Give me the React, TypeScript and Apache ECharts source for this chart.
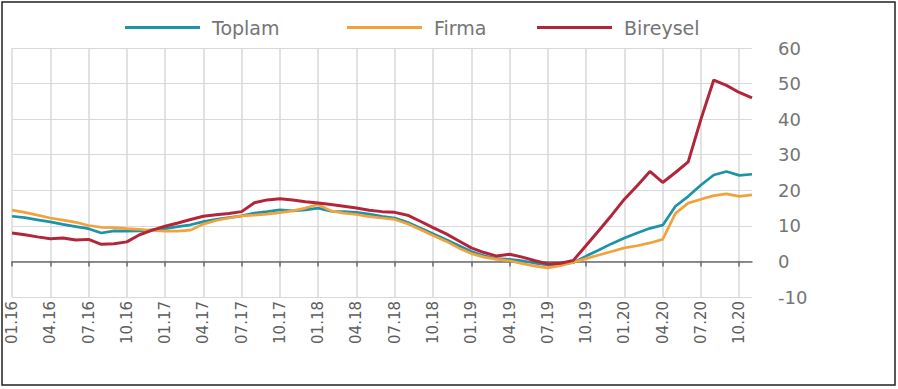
import React, { useEffect, useRef } from "react";
import * as echarts from "echarts";

// Monthly observations, 01.16 – 11.20
const months = [
  "01.16", "02.16", "03.16", "04.16", "05.16", "06.16", "07.16", "08.16", "09.16", "10.16", "11.16", "12.16",
  "01.17", "02.17", "03.17", "04.17", "05.17", "06.17", "07.17", "08.17", "09.17", "10.17", "11.17", "12.17",
  "01.18", "02.18", "03.18", "04.18", "05.18", "06.18", "07.18", "08.18", "09.18", "10.18", "11.18", "12.18",
  "01.19", "02.19", "03.19", "04.19", "05.19", "06.19", "07.19", "08.19", "09.19", "10.19", "11.19", "12.19",
  "01.20", "02.20", "03.20", "04.20", "05.20", "06.20", "07.20", "08.20", "09.20", "10.20", "11.20",
];

const toplam = [
  12.7, 12.3, 11.7, 11.1, 10.4, 9.8, 9.2, 8.0, 8.6, 8.5, 8.6, 8.9,
  9.2, 9.8, 10.3, 11.2, 11.8, 12.3, 12.8, 13.6, 14.0, 14.5, 14.2, 14.5,
  15.0, 14.1, 14.0, 13.8, 13.3, 12.7, 12.2, 11.0, 9.4, 7.8, 6.2, 4.5,
  2.8, 1.6, 0.8, 0.6, 0.2, -0.5, -1.0, -0.9, -0.3, 1.5, 3.2, 5.0,
  6.6, 8.0, 9.3, 10.2, 15.5, 18.3, 21.5, 24.3, 25.3, 24.2, 24.5,
];

const firma = [
  14.4, 13.8, 13.0, 12.2, 11.6, 11.0, 10.1, 9.6, 9.5, 9.2, 9.0, 8.7,
  8.5, 8.5, 8.8, 10.5, 11.5, 12.2, 12.8, 13.0, 13.3, 13.7, 14.2, 15.0,
  16.0, 14.2, 13.6, 13.2, 12.6, 12.2, 11.8, 10.6, 9.0, 7.3, 5.7, 3.8,
  2.2, 1.2, 0.6, 0.2, -0.6, -1.3, -1.8, -1.2, -0.2, 0.8, 1.8, 2.8,
  3.8, 4.4, 5.2, 6.2, 13.5, 16.4, 17.5, 18.5, 19.0, 18.3, 18.7,
];

const bireysel = [
  8.0, 7.5, 6.9, 6.4, 6.6, 6.0, 6.2, 4.8, 5.0, 5.5, 7.5, 8.8,
  9.9, 10.8, 11.8, 12.7, 13.1, 13.5, 14.0, 16.5, 17.3, 17.6, 17.3, 16.8,
  16.4, 16.0, 15.5, 15.0, 14.4, 14.0, 13.8, 13.0, 11.3, 9.5, 7.8, 5.8,
  3.8, 2.5, 1.5, 2.0, 1.2, 0.2, -0.7, -0.5, 0.3, 4.5, 8.7, 13.0,
  17.5, 21.3, 25.3, 22.2, 25.0, 28.0, 40.0, 51.0, 49.5, 47.5, 46.0,
];

const seriesNames = ["Toplam", "Firma", "Bireysel"];
const seriesColors = ["#1d93a8", "#f0a33c", "#b3253a"];
const legendLeft = [120, 342, 532];

const FONT = "DejaVu Sans, Verdana, sans-serif";
const GRID_COLOR = "#d9d9d9";
const AXIS_COLOR = "#6b6b6b";

export default function App() {
  const ref = useRef<HTMLDivElement>(null);

  useEffect(() => {
    if (!ref.current) return;
    const chart = echarts.init(ref.current, undefined, { renderer: "svg" });
    const values = [toplam, firma, bireysel];

    chart.setOption({
      animation: false,
      backgroundColor: "#ffffff",
      textStyle: { fontFamily: FONT },
      grid: { left: 12, right: 146, top: 48, bottom: 92, containLabel: false },
      legend: seriesNames.map((name, i) => ({
        data: [name],
        left: legendLeft[i],
        top: 13,
        icon: "rect",
        itemWidth: 75,
        itemHeight: 3,
        selectedMode: false,
        textStyle: {
          fontFamily: FONT,
          fontSize: 19,
          color: "#757575",
          padding: [0, 0, 0, 7],
        },
      })),
      xAxis: [
        {
          type: "category",
          data: months,
          boundaryGap: false,
          position: "bottom",
          axisLine: { show: false, onZero: false },
          axisTick: { show: false },
          axisLabel: {
            interval: 2,
            rotate: 90,
            margin: 4,
            fontFamily: FONT,
            fontSize: 15,
            color: "#5e5e5e",
          },
          splitLine: {
            show: true,
            interval: 2,
            lineStyle: { color: GRID_COLOR, width: 1.5 },
          },
        },
        {
          type: "category",
          data: months,
          boundaryGap: false,
          position: "bottom",
          axisLine: {
            show: true,
            onZero: true,
            onZeroAxisIndex: 0,
            lineStyle: { color: AXIS_COLOR, width: 1.5 },
          },
          axisTick: {
            show: true,
            interval: 2,
            length: 5,
            lineStyle: { color: AXIS_COLOR, width: 1.5 },
          },
          axisLabel: { show: false },
          splitLine: { show: false },
        },
      ],
      yAxis: {
        type: "value",
        position: "right",
        min: -10,
        max: 60,
        interval: 10,
        axisLine: { show: false },
        axisTick: { show: false },
        axisLabel: {
          margin: 26,
          fontFamily: FONT,
          fontSize: 18,
          color: "#757575",
        },
        splitLine: { lineStyle: { color: GRID_COLOR, width: 1 } },
      },
      series: seriesNames.map((name, i) => ({
        name,
        type: "line",
        xAxisIndex: 0,
        data: values[i],
        symbol: "none",
        color: seriesColors[i],
        lineStyle: { color: seriesColors[i], width: i === 2 ? 3 : 2.7 },
        z: 2 + i,
      })),
      graphic: [
        {
          type: "rect",
          shape: { x: 2, y: 2, width: 893, height: 383 },
          style: { fill: "none", stroke: "#222222", lineWidth: 1.5 },
          silent: true,
          z: 100,
        },
      ],
    });

    return () => chart.dispose();
  }, []);

  return (
    <div
      ref={ref}
      style={{ position: "fixed", left: 0, top: 0, width: 898, height: 389 }}
    />
  );
}
